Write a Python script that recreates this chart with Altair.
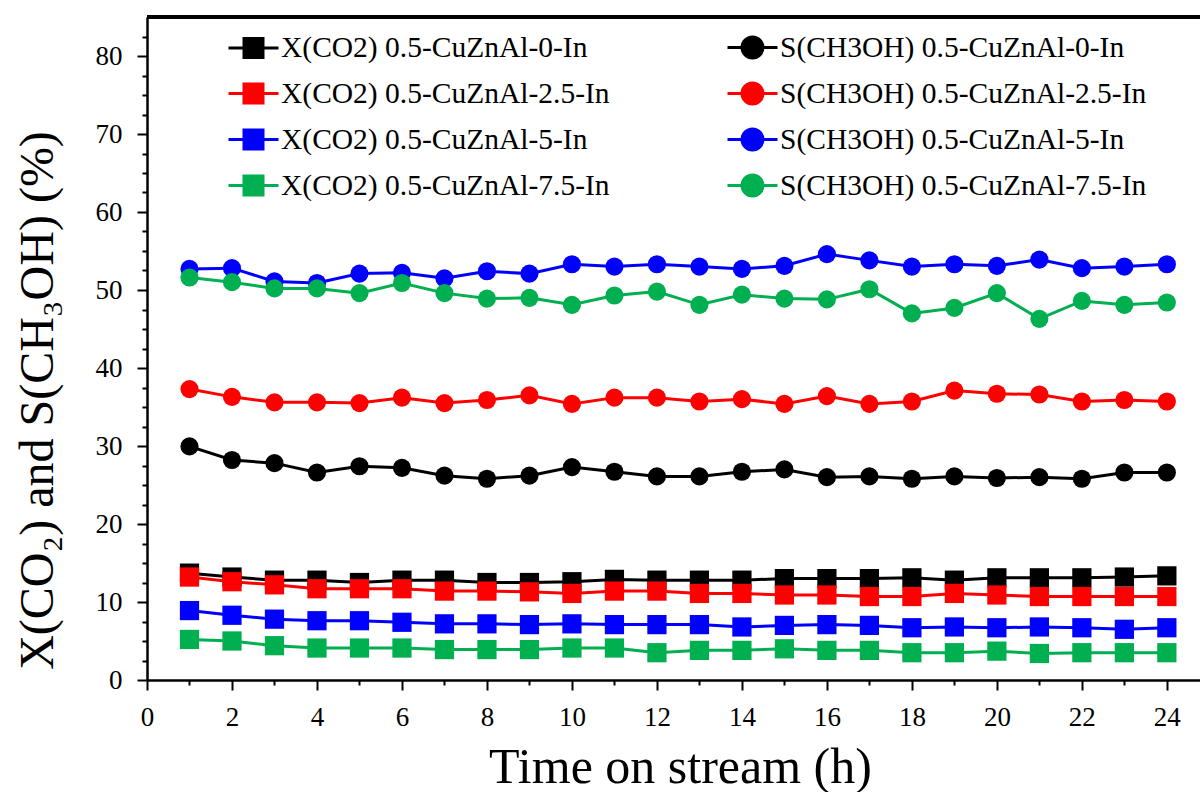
import altair as alt
import pandas as pd

hours = list(range(1, 25))

# legend order: first column X(CO2) series, second column S(CH3OH) series
names = [
    "X(CO2) 0.5-CuZnAl-0-In", "X(CO2) 0.5-CuZnAl-2.5-In",
    "X(CO2) 0.5-CuZnAl-5-In", "X(CO2) 0.5-CuZnAl-7.5-In",
    "S(CH3OH) 0.5-CuZnAl-0-In", "S(CH3OH) 0.5-CuZnAl-2.5-In",
    "S(CH3OH) 0.5-CuZnAl-5-In", "S(CH3OH) 0.5-CuZnAl-7.5-In",
]
colors = ["#000000", "#FF0000", "#0000FF", "#00B050",
          "#000000", "#FF0000", "#0000FF", "#00B050"]

x_0 = [13.7, 13.2, 12.8, 12.8, 12.5, 12.8, 12.8, 12.5, 12.5, 12.6, 12.9, 12.8,
       12.8, 12.8, 13.0, 13.0, 13.0, 13.1, 12.8, 13.1, 13.1, 13.1, 13.2, 13.35]
x_25 = [13.2, 12.6, 12.2, 11.7, 11.7, 11.7, 11.4, 11.4, 11.3, 11.1, 11.4, 11.4,
        11.1, 11.1, 10.9, 10.9, 10.7, 10.7, 11.1, 10.9, 10.7, 10.7, 10.7, 10.7]
x_5 = [8.9, 8.3, 7.8, 7.6, 7.6, 7.4, 7.2, 7.2, 7.1, 7.2, 7.1, 7.1,
       7.1, 6.8, 7.0, 7.1, 7.0, 6.7, 6.8, 6.7, 6.8, 6.7, 6.5, 6.7]
x_75 = [5.2, 5.0, 4.4, 4.1, 4.1, 4.1, 3.9, 3.9, 3.9, 4.1, 4.1, 3.5,
        3.8, 3.8, 4.0, 3.8, 3.8, 3.5, 3.5, 3.7, 3.4, 3.5, 3.5, 3.5]
s_0 = [29.95, 28.2, 27.8, 26.6, 27.4, 27.2, 26.2, 25.8, 26.2, 27.3, 26.7, 26.1,
       26.1, 26.7, 27.0, 26.0, 26.1, 25.8, 26.1, 25.9, 26.0, 25.8, 26.6, 26.6]
s_25 = [37.3, 36.3, 35.6, 35.6, 35.5, 36.2, 35.5, 35.9, 36.5, 35.4, 36.2, 36.2,
        35.7, 36.0, 35.4, 36.4, 35.4, 35.7, 37.1, 36.7, 36.6, 35.7, 35.9, 35.7]
s_5 = [52.7, 52.8, 51.1, 50.9, 52.1, 52.2, 51.5, 52.4, 52.1, 53.3, 53.0, 53.3,
       53.0, 52.7, 53.1, 54.6, 53.8, 53.0, 53.3, 53.1, 53.9, 52.8, 53.0, 53.3]
s_75 = [51.6, 51.0, 50.2, 50.2, 49.6, 50.9, 49.6, 48.9, 49.0, 48.1, 49.3, 49.8,
        48.1, 49.4, 48.9, 48.8, 50.1, 47.0, 47.7, 49.6, 46.3, 48.6, 48.1, 48.4]

series_values = [x_0, x_25, x_5, x_75, s_0, s_25, s_5, s_75]

rows = []
for n, vals in zip(names, series_values):
    for t, v in zip(hours, vals):
        rows.append({"series": n, "t": t, "v": v})
df = pd.DataFrame(rows)

FONT = "Liberation Serif"
W, H = 1053, 663

x_enc = alt.X(
    "t:Q",
    scale=alt.Scale(domain=[0, 24.78], nice=False, zero=False),
    axis=alt.Axis(
        title="Time on stream (h)", values=list(range(0, 25)),
        labelExpr="datum.value % 2 === 0 ? datum.label : ''",
        labelOverlap=False, labelFlush=False, grid=False,
        labelFont=FONT, labelFontSize=27, labelColor="black", labelPadding=14,
        tickSize={"condition": {"test": "datum.value % 2 === 0", "value": 10}, "value": 5},
        tickWidth=2, tickColor="black",
        domainWidth=2.5, domainColor="black",
        titleFont=FONT, titleFontSize=50, titleFontWeight="normal", titleColor="black",
        titleX=533, titleY=102, titleBaseline="alphabetic", titleAlign="center",
    ),
)
y_enc = alt.Y(
    "v:Q",
    scale=alt.Scale(domain=[0, 85], nice=False),
    axis=alt.Axis(
        title="X(CO\u2082) and S(CH\u2083OH) (%)",
        values=[i * 2.5 for i in range(34)],
        labelExpr="datum.value % 10 === 0 ? datum.label : ''",
        labelOverlap=False, labelFlush=False, grid=False,
        labelFont=FONT, labelFontSize=27, labelColor="black", labelPadding=15,
        tickSize={"condition": {"test": "datum.value % 10 === 0", "value": 10}, "value": 5},
        tickWidth=2, tickColor="black",
        domainWidth=2.5, domainColor="black",
        titleFont=FONT, titleFontSize=48, titleFontWeight="normal", titleColor="black",
        titleX=-95, titleY=383, titleBaseline="alphabetic", titleAlign="center",
    ),
)

# legend symbols: a short line with the marker on it
sq_path = "M-1,0L1,0M-0.38,-0.38L0.38,-0.38L0.38,0.38L-0.38,0.38Z"
ci_path = "M-1,0L1,0M0.42,0A0.42,0.42,0,1,1,-0.42,0A0.42,0.42,0,1,1,0.42,0Z"
legend_shapes = [sq_path] * 4 + [ci_path] * 4

legend = alt.Legend(
    title=None, orient="none", legendX=80, legendY=4, columns=2,
    columnPadding=111, rowPadding=3, padding=0,
    labelFont=FONT, labelFontSize=29.5, labelColor="black", labelOffset=1,
    labelLimit=600, symbolSize=2500, symbolStrokeWidth=3, symbolOpacity=1,
)

fill_enc = alt.Fill("series:N", scale=alt.Scale(domain=names, range=colors), legend=legend)
stroke_enc = alt.Stroke("series:N", scale=alt.Scale(domain=names, range=colors), legend=legend)
shape_enc = alt.Shape("series:N", scale=alt.Scale(domain=names, range=legend_shapes), legend=legend)

layers = []
legend_layer = alt.Chart(df).transform_filter("false").mark_point(
    filled=True, opacity=1, size=2500, strokeWidth=3
).encode(x=x_enc, y=y_enc, fill=fill_enc, stroke=stroke_enc, shape=shape_enc)
layers.append(legend_layer)

for n in names:
    base = alt.Chart(df).transform_filter(alt.datum.series == n)
    layers.append(base.mark_line(strokeWidth=3).encode(x=x_enc, y=y_enc, stroke=stroke_enc))
    is_s = n.startswith("S(")
    layers.append(base.mark_point(
        filled=True, opacity=1, strokeWidth=0,
        shape="circle" if is_s else "square",
        size=330 if is_s else 370,
    ).encode(x=x_enc, y=y_enc, fill=fill_enc))

top_border = alt.Chart(df).mark_rule(color="black", strokeWidth=2.5).encode(
    x=alt.value(0), x2=alt.value(W), y=alt.value(0))
layers.append(top_border)

chart = alt.layer(*layers).properties(
    width=W, height=H,
    autosize=alt.AutoSizeParams(type="none"),
    padding={"left": 147, "top": 17, "right": 0, "bottom": 112},
).configure_view(stroke=None).configure(background="white")

chart.save("out.html", embed_options={"renderer": "svg", "actions": False})
